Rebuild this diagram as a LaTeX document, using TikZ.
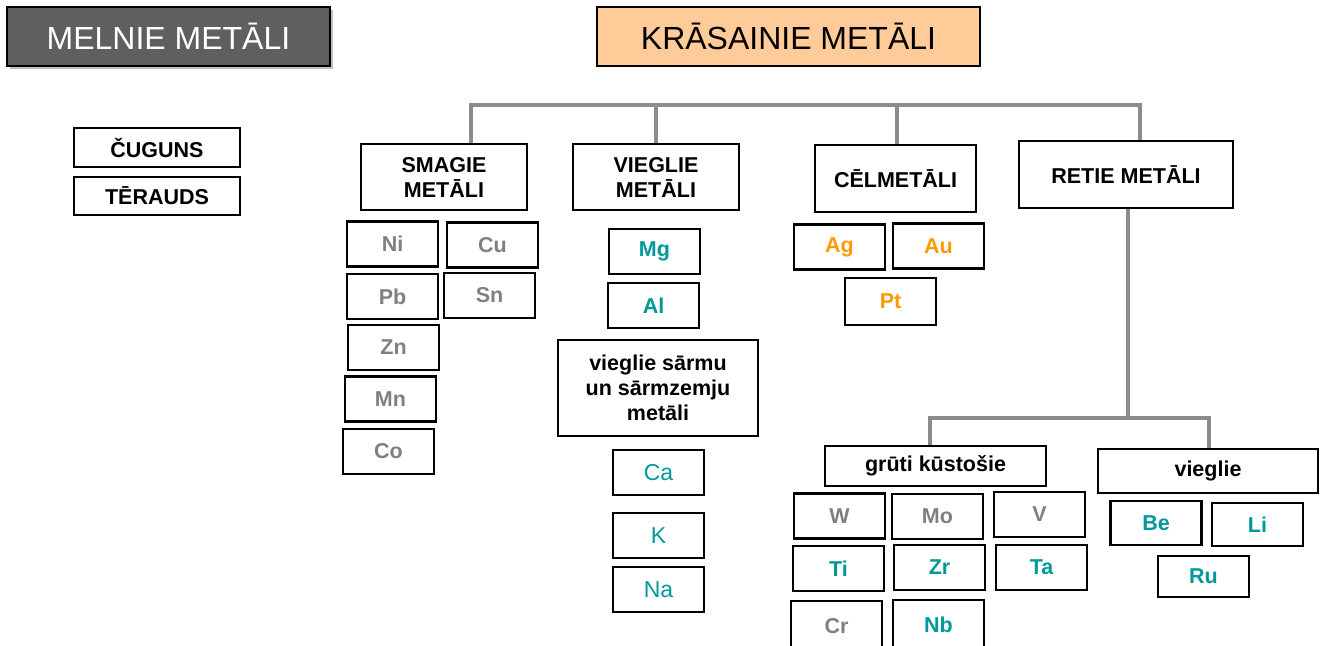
\documentclass[tikz,border=0pt]{standalone}
\usepackage{fontspec}
\setmainfont{Liberation Sans}
\definecolor{hdgray}{RGB}{95,95,95}
\definecolor{peach}{RGB}{255,204,153}
\definecolor{elgray}{RGB}{128,128,128}
\definecolor{teal}{RGB}{0,153,153}
\definecolor{orng}{RGB}{255,153,0}
\definecolor{treegray}{RGB}{140,140,140}
\begin{document}
\begin{tikzpicture}[x=1pt,y=-1pt,
  bx/.style={draw=black,line width=2.2pt,inner sep=0pt,align=center},
  head/.style={bx,font=\fontsize{32}{34}\selectfont},
  cat/.style={bx,font=\fontsize{21.5}{25}\selectfont\bfseries},
  el/.style={bx,minimum width=91,minimum height=45,font=\fontsize{21.5}{25}\selectfont\bfseries},
  gr/.style={el,text=elgray},
  tl/.style={el,text=teal},
  tln/.style={el,text=teal,font=\fontsize{23}{25}\selectfont},
  og/.style={el,text=orng},
  tree/.style={draw=treegray,line width=3.5pt}]
\useasboundingbox (0,0) rectangle (1322,645);
% headers
\fill[black!25] (10,10) rectangle (333,69);
\node[head,fill=hdgray,text=white,minimum width=323,minimum height=59] (melnie) at (168.5,36.5) {MELNIE METĀLI};
\node[head,fill=peach,minimum width=383,minimum height=59] (krasainie) at (788.5,36.5) {KRĀSAINIE METĀLI};
% left
\node[cat,minimum width=166,minimum height=39] (cug) at (157,147.5) {ČUGUNS};
\node[cat,minimum width=166,minimum height=38] (ter) at (157,196) {TĒRAUDS};
% categories
\node[cat,minimum width=166,minimum height=66] (smagie) at (444,177) {SMAGIE\\METĀLI};
\node[cat,minimum width=166,minimum height=66] (vieglie) at (656,177) {VIEGLIE\\METĀLI};
\node[cat,minimum width=161,minimum height=67] (cel) at (895.5,178.5) {CĒLMETĀLI};
\node[cat,minimum width=214,minimum height=67] (retie) at (1126,174.5) {RETIE METĀLI};
% tree
\coordinate (t1) at (471,105);
\coordinate (t2) at (656,105);
\coordinate (t3) at (897,105);
\coordinate (t4) at (1140,105);
\draw[tree] (smagie.north -| t1) -- (t1) -- (t4) -- (retie.north -| t4);
\draw[tree] (vieglie.north -| t2) -- (t2);
\draw[tree] (cel.north -| t3) -- (t3);
% smagie
\node[gr] (ni) at (392.5,244) {Ni};
\node[gr] (cu) at (492.5,245) {Cu};
\node[gr] (pb) at (392.5,296.5) {Pb};
\node[gr] (sn) at (489.5,295.5) {Sn};
\node[gr] (zn) at (393.5,347.5) {Zn};
\node[gr] (mn) at (390.5,399) {Mn};
\node[gr] (co) at (388.5,451.5) {Co};
% vieglie
\node[tl] (mg) at (654.5,251.5) {Mg};
\node[tl] (al) at (653.5,305.5) {Al};
\node[cat,minimum width=200,minimum height=96] (sarmu) at (658,388) {vieglie sārmu\\un sārmzemju\\metāli};
\node[tln] (ca) at (658.5,472.5) {Ca};
\node[tln] (k) at (658.5,535.5) {K};
\node[tln] (na) at (658.5,589.5) {Na};
% cel
\node[og] (ag) at (839.5,247) {Ag};
\node[og] (au) at (938.5,246) {Au};
\node[og,minimum height=47] (pt) at (890.5,301.5) {Pt};
% retie subtree
\node[cat,minimum width=221,minimum height=40] (gruti) at (935.5,466) {grūti kūstošie};
\node[cat,minimum width=220,minimum height=44] (vieg2) at (1208,471) {vieglie};
\coordinate (r0) at (1128,418);
\coordinate (r1) at (930,418);
\coordinate (r2) at (1209,418);
\draw[tree] (retie.south -| r0) -- (r0);
\draw[tree] (gruti.north -| r1) -- (r1) -- (r2) -- (vieg2.north -| r2);
\node[gr] (w) at (839.5,516) {W};
\node[gr] (mo) at (937.5,516.5) {Mo};
\node[gr] (v) at (1039.5,514.5) {V};
\node[tl] (ti) at (838.5,568.5) {Ti};
\node[tl] (zr) at (939.5,567.5) {Zr};
\node[tl] (ta) at (1041.5,567.5) {Ta};
\node[gr,minimum height=50] (cr) at (836.5,626) {Cr};
\node[tl,minimum height=50] (nb) at (938.5,625) {Nb};
\node[tl,minimum height=44] (be) at (1156,523) {Be};
\node[tl,minimum height=43] (li) at (1257.5,524.5) {Li};
\node[tl,minimum height=41] (ru) at (1203.5,576.5) {Ru};
\end{tikzpicture}
\end{document}
